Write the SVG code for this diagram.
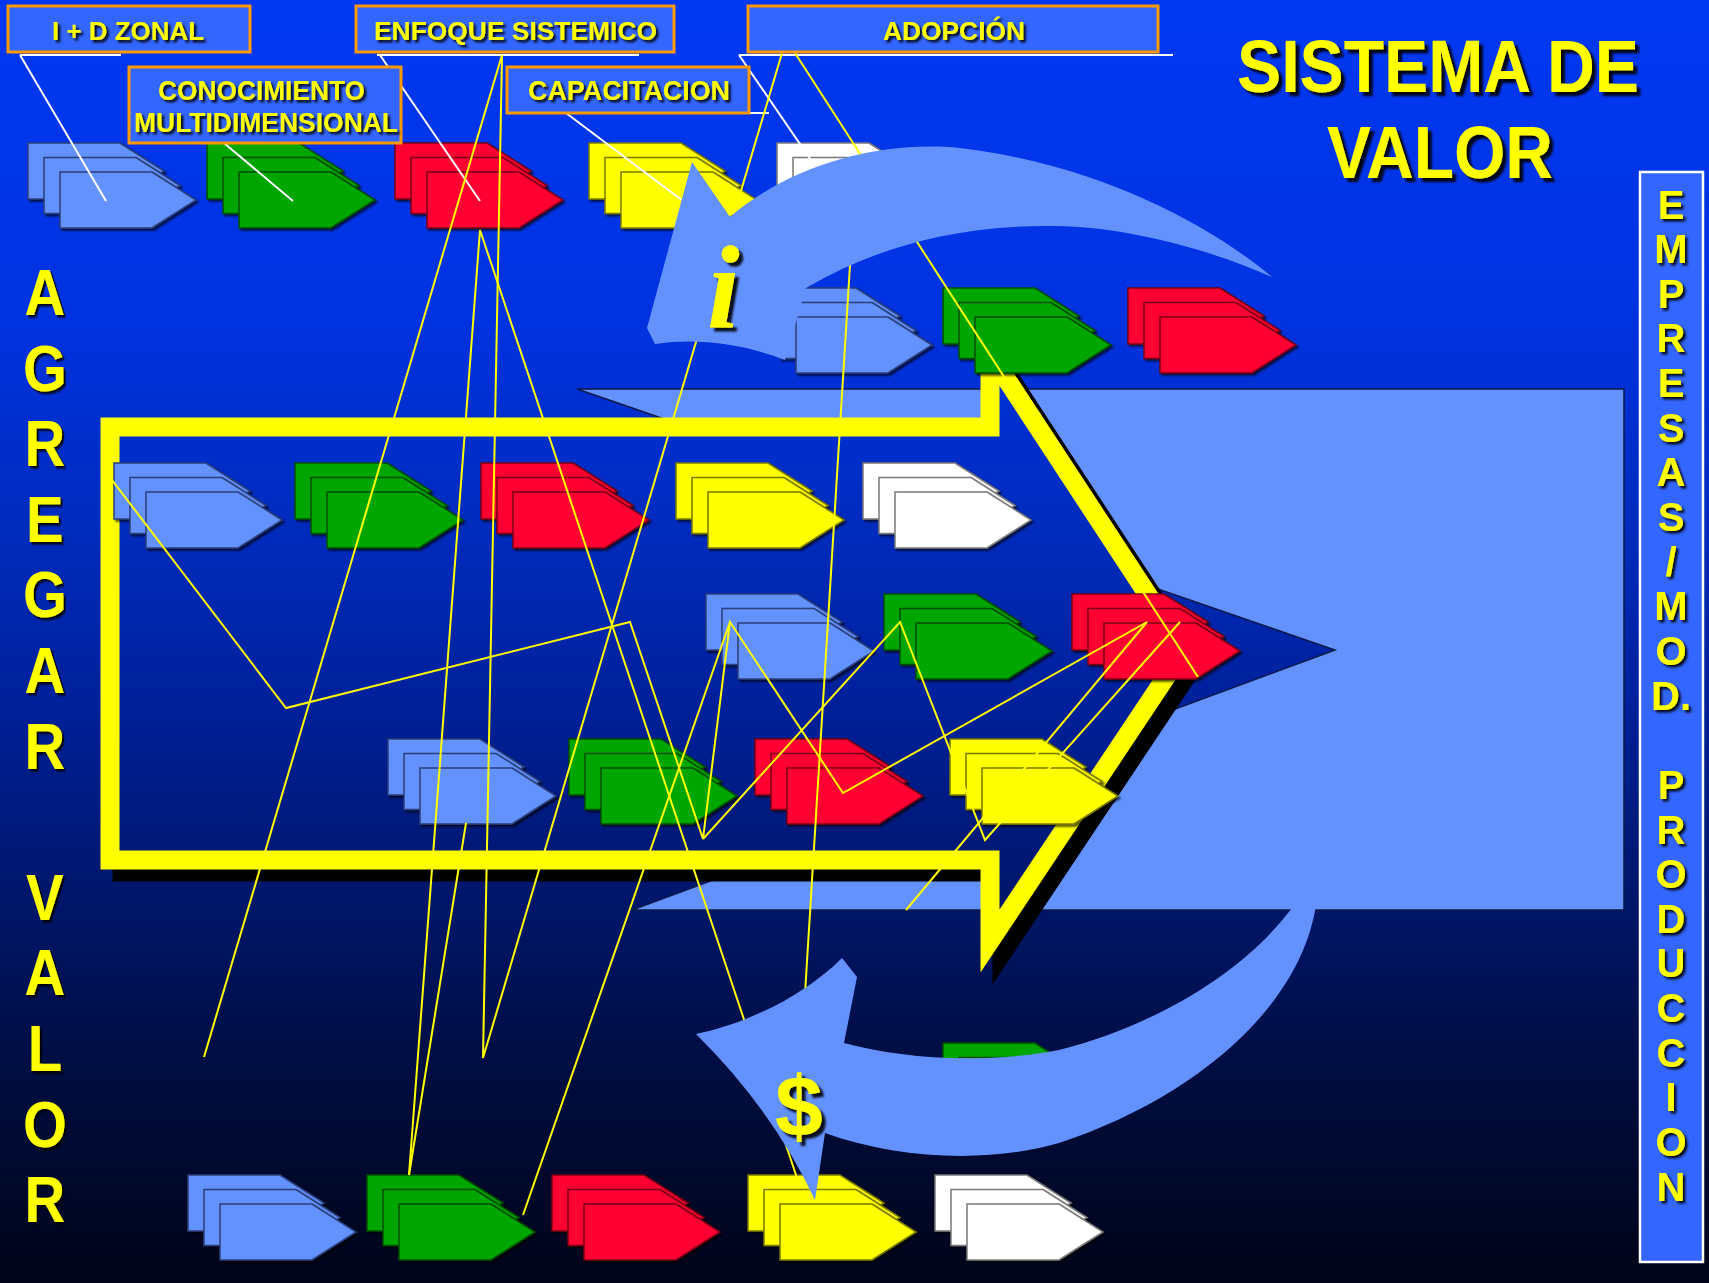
<svg xmlns="http://www.w3.org/2000/svg" xmlns:xlink="http://www.w3.org/1999/xlink" width="1709" height="1283" viewBox="0 0 1709 1283">
<defs>
<linearGradient id="bg" gradientUnits="userSpaceOnUse" x1="0" y1="0" x2="0" y2="1283">
<stop offset="0" stop-color="#0038F2"/>
<stop offset="0.25" stop-color="#0032E0"/>
<stop offset="0.4" stop-color="#002CC0"/>
<stop offset="0.55" stop-color="#00209A"/>
<stop offset="0.7" stop-color="#00166A"/>
<stop offset="0.85" stop-color="#000C3C"/>
<stop offset="1" stop-color="#000418"/>
</linearGradient>
<polygon id="chev" points="0,0 92,0 136,28 92,56 0,56"/>
<filter id="cs" x="-10%" y="-10%" width="130%" height="140%"><feDropShadow dx="2" dy="2" stdDeviation="0.8" flood-color="#000" flood-opacity="0.7"/></filter>
<filter id="ts" x="-10%" y="-10%" width="130%" height="140%"><feDropShadow dx="2.5" dy="2.5" stdDeviation="0.8" flood-color="#000" flood-opacity="0.9"/></filter>
<filter id="tsb" x="-10%" y="-10%" width="130%" height="140%"><feDropShadow dx="4" dy="4" stdDeviation="1" flood-color="#000" flood-opacity="0.9"/></filter>
<style>
.stk use{filter:url(#cs);stroke-width:1.5}
.cb{fill:#6392FF;stroke:#2B3F7A}
.cg{fill:#00A600;stroke:#004D00}
.cr{fill:#FF0030;stroke:#7A0016}
.cy{fill:#FFFF00;stroke:#7A7A00}
.cw{fill:#FFFFFF;stroke:#7A7A7A}
.lbl{fill:#3366FF;stroke:#FF9900;stroke-width:3}
.t{font-family:"Liberation Sans",Arial,sans-serif;font-weight:bold;fill:#FFFF00;filter:url(#ts)}
.wl{stroke:#FFFFFF;stroke-width:2;fill:none}
.yl{stroke:#FFFF00;stroke-width:2;fill:none;stroke-linejoin:miter}
.lb{fill:#6392FF}
</style>
</defs>
<rect x="0" y="0" width="1709" height="1283" fill="url(#bg)"/>

<g id="value-block">
<polygon class="lb" points="577,389 1624,389 1624,910 632,910 1335,650" stroke="#0B1A4A" stroke-width="1.5"/>
</g>

<g id="value-arrow">
<polygon points="110,427 990,427 990,354 1184,650 990,941 990,860 110,860" transform="translate(12,12)" fill="#000" stroke="#000" stroke-width="19"/>
<polygon points="110,427 990,427 990,354 1184,650 990,941 990,860 110,860" fill="url(#bg)" stroke="#FFFF00" stroke-width="19"/>
</g>

<g id="hidden-green" class="stk cg" transform="translate(943,1043)"><use xlink:href="#chev"/><use xlink:href="#chev" x="16" y="14.5"/><use xlink:href="#chev" x="32" y="29"/></g>

<g id="row1">
<g id="r1-blue" class="stk cb" transform="translate(28,143)"><use xlink:href="#chev"/><use xlink:href="#chev" x="16" y="14.5"/><use xlink:href="#chev" x="32" y="29"/></g>
<g id="r1-green" class="stk cg" transform="translate(207,143)"><use xlink:href="#chev"/><use xlink:href="#chev" x="16" y="14.5"/><use xlink:href="#chev" x="32" y="29"/></g>
<g id="r1-red" class="stk cr" transform="translate(395,143)"><use xlink:href="#chev"/><use xlink:href="#chev" x="16" y="14.5"/><use xlink:href="#chev" x="32" y="29"/></g>
<g id="r1-yellow" class="stk cy" transform="translate(589,143)"><use xlink:href="#chev"/><use xlink:href="#chev" x="16" y="14.5"/><use xlink:href="#chev" x="32" y="29"/></g>
<g id="r1-white" class="stk cw" transform="translate(777,143)"><use xlink:href="#chev"/><use xlink:href="#chev" x="16" y="14.5"/><use xlink:href="#chev" x="32" y="29"/></g>
</g>
<g id="row2">
<g id="r2-blue" class="stk cb" transform="translate(764,288)"><use xlink:href="#chev"/><use xlink:href="#chev" x="16" y="14.5"/><use xlink:href="#chev" x="32" y="29"/></g>
<g id="r2-green" class="stk cg" transform="translate(943,288)"><use xlink:href="#chev"/><use xlink:href="#chev" x="16" y="14.5"/><use xlink:href="#chev" x="32" y="29"/></g>
<g id="r2-red" class="stk cr" transform="translate(1128,288)"><use xlink:href="#chev"/><use xlink:href="#chev" x="16" y="14.5"/><use xlink:href="#chev" x="32" y="29"/></g>
</g>
<g id="row3">
<g id="r3-blue" class="stk cb" transform="translate(114,463)"><use xlink:href="#chev"/><use xlink:href="#chev" x="16" y="14.5"/><use xlink:href="#chev" x="32" y="29"/></g>
<g id="r3-green" class="stk cg" transform="translate(295,463)"><use xlink:href="#chev"/><use xlink:href="#chev" x="16" y="14.5"/><use xlink:href="#chev" x="32" y="29"/></g>
<g id="r3-red" class="stk cr" transform="translate(481,463)"><use xlink:href="#chev"/><use xlink:href="#chev" x="16" y="14.5"/><use xlink:href="#chev" x="32" y="29"/></g>
<g id="r3-yellow" class="stk cy" transform="translate(676,463)"><use xlink:href="#chev"/><use xlink:href="#chev" x="16" y="14.5"/><use xlink:href="#chev" x="32" y="29"/></g>
<g id="r3-white" class="stk cw" transform="translate(863,463)"><use xlink:href="#chev"/><use xlink:href="#chev" x="16" y="14.5"/><use xlink:href="#chev" x="32" y="29"/></g>
</g>
<g id="row4">
<g id="r4-blue" class="stk cb" transform="translate(706,594)"><use xlink:href="#chev"/><use xlink:href="#chev" x="16" y="14.5"/><use xlink:href="#chev" x="32" y="29"/></g>
<g id="r4-green" class="stk cg" transform="translate(884,594)"><use xlink:href="#chev"/><use xlink:href="#chev" x="16" y="14.5"/><use xlink:href="#chev" x="32" y="29"/></g>
<g id="r4-red" class="stk cr" transform="translate(1072,594)"><use xlink:href="#chev"/><use xlink:href="#chev" x="16" y="14.5"/><use xlink:href="#chev" x="32" y="29"/></g>
</g>
<g id="row5">
<g id="r5-blue" class="stk cb" transform="translate(388,739)"><use xlink:href="#chev"/><use xlink:href="#chev" x="16" y="14.5"/><use xlink:href="#chev" x="32" y="29"/></g>
<g id="r5-green" class="stk cg" transform="translate(569,739)"><use xlink:href="#chev"/><use xlink:href="#chev" x="16" y="14.5"/><use xlink:href="#chev" x="32" y="29"/></g>
<g id="r5-red" class="stk cr" transform="translate(755,739)"><use xlink:href="#chev"/><use xlink:href="#chev" x="16" y="14.5"/><use xlink:href="#chev" x="32" y="29"/></g>
<g id="r5-yellow" class="stk cy" transform="translate(950,739)"><use xlink:href="#chev"/><use xlink:href="#chev" x="16" y="14.5"/><use xlink:href="#chev" x="32" y="29"/></g>
</g>
<g id="row6">
<g id="r6-blue" class="stk cb" transform="translate(188,1175)"><use xlink:href="#chev"/><use xlink:href="#chev" x="16" y="14.5"/><use xlink:href="#chev" x="32" y="29"/></g>
<g id="r6-green" class="stk cg" transform="translate(367,1175)"><use xlink:href="#chev"/><use xlink:href="#chev" x="16" y="14.5"/><use xlink:href="#chev" x="32" y="29"/></g>
<g id="r6-red" class="stk cr" transform="translate(552,1175)"><use xlink:href="#chev"/><use xlink:href="#chev" x="16" y="14.5"/><use xlink:href="#chev" x="32" y="29"/></g>
<g id="r6-yellow" class="stk cy" transform="translate(748,1175)"><use xlink:href="#chev"/><use xlink:href="#chev" x="16" y="14.5"/><use xlink:href="#chev" x="32" y="29"/></g>
<g id="r6-white" class="stk cw" transform="translate(935,1175)"><use xlink:href="#chev"/><use xlink:href="#chev" x="16" y="14.5"/><use xlink:href="#chev" x="32" y="29"/></g>
</g>

<g id="connectors">
<path class="wl" d="M20,55 H121 M20,55 L106,201"/>
<path class="wl" d="M224,143 L293,201"/>
<path class="wl" d="M377,55 H639 M380,55 L480,201"/>
<path class="wl" d="M561,113 H769 M566,113 L683,201"/>
<path class="wl" d="M739,55 H1173 M739,55 L828,185"/>
<path class="yl" d="M502,55 L204,1057"/>
<path class="yl" d="M502,55 L483,1058 L782,53"/>
<path class="yl" d="M795,53 L1198,677"/>
<path class="yl" d="M409,1175 L480,230 L797,1178"/>
<path class="yl" d="M466,823 L409,1175"/>
<path class="yl" d="M854,200 L804,1010"/>
<path class="yl" d="M730,622 L523,1215"/>
<path class="yl" d="M112,480 L286,708 L630,622 L703,839 L730,622 L843,793 L1147,622 L906,910"/>
<path class="yl" d="M703,839 L900,622 L985,840 L1180,622"/>
</g>

<g id="return-arrow">
<path class="lb" d="M1294,905 L1316,905 C1300,1010 1190,1100 1059,1143 C990,1163 900,1160 825,1133 L815,1200 Q772,1109 696,1034 C740,1025 800,1000 842,958 L857,977 L844,1043 C900,1058 980,1065 1059,1050 C1140,1030 1240,980 1294,905 Z"/>
</g>
<g id="info-arrow">
<path class="lb" d="M1272,277 C1210,225 1100,165 960,148 C880,140 790,165 730,217 L692,162 L647,328 L655,344 Q720,335 785,360 L806,288 C880,245 960,225 1054,226 C1130,227 1210,250 1272,277 Z"/>
</g>

<g id="label-id">
<rect class="lbl" x="8" y="6" width="242" height="46"/>
<text class="t" x="52" y="40" font-size="25" textLength="152" lengthAdjust="spacingAndGlyphs">I + D ZONAL</text>
</g>
<g id="label-conocimiento">
<rect class="lbl" x="129" y="67" width="272" height="76"/>
<text class="t" x="158" y="100" font-size="28" textLength="207" lengthAdjust="spacingAndGlyphs">CONOCIMIENTO</text>
<text class="t" x="134" y="132" font-size="28" textLength="264" lengthAdjust="spacingAndGlyphs">MULTIDIMENSIONAL</text>
</g>
<g id="label-enfoque">
<rect class="lbl" x="356" y="6" width="318" height="46"/>
<text class="t" x="374" y="40" font-size="25" textLength="283" lengthAdjust="spacingAndGlyphs">ENFOQUE SISTEMICO</text>
</g>
<g id="label-capacitacion">
<rect class="lbl" x="507" y="67" width="242" height="46"/>
<text class="t" x="528" y="100" font-size="28" textLength="202" lengthAdjust="spacingAndGlyphs">CAPACITACION</text>
</g>
<g id="label-adopcion">
<rect class="lbl" x="748" y="6" width="410" height="46"/>
<text class="t" x="883" y="40" font-size="25" textLength="142" lengthAdjust="spacingAndGlyphs">ADOPCIÓN</text>
</g>

<g id="title">
<text class="t" style="filter:url(#tsb)" x="1237" y="92" font-size="75" textLength="402" lengthAdjust="spacingAndGlyphs">SISTEMA DE</text>
<text class="t" style="filter:url(#tsb)" x="1327" y="178" font-size="75" textLength="226" lengthAdjust="spacingAndGlyphs">VALOR</text>
</g>

<g id="empresas">
<rect x="1640" y="172" width="63" height="1090" fill="#3366FF" stroke="#FFFFFF" stroke-width="2.5"/>
<g class="t" font-size="40" text-anchor="middle">
<text x="1671" y="218.5">E</text>
<text x="1671" y="263.1">M</text>
<text x="1671" y="307.8">P</text>
<text x="1671" y="352.4">R</text>
<text x="1671" y="397.1">E</text>
<text x="1671" y="441.7">S</text>
<text x="1671" y="486.3">A</text>
<text x="1671" y="531">S</text>
<text x="1671" y="575.6">/</text>
<text x="1671" y="620.3">M</text>
<text x="1671" y="664.9">O</text>
<text x="1671" y="709.5">D.</text>
<text x="1671" y="798.8">P</text>
<text x="1671" y="843.5">R</text>
<text x="1671" y="888.1">O</text>
<text x="1671" y="932.7">D</text>
<text x="1671" y="977.4">U</text>
<text x="1671" y="1022">C</text>
<text x="1671" y="1066.7">C</text>
<text x="1671" y="1111.3">I</text>
<text x="1671" y="1155.9">O</text>
<text x="1671" y="1200.6">N</text>
</g>
</g>

<g id="agregar-valor" transform="scale(0.88,1)">
<g class="t" font-size="64" text-anchor="middle">
<text x="51" y="315">A</text>
<text x="51" y="390.6">G</text>
<text x="51" y="466.2">R</text>
<text x="51" y="541.8">E</text>
<text x="51" y="617.4">G</text>
<text x="51" y="693">A</text>
<text x="51" y="768.6">R</text>
<text x="51" y="919.8">V</text>
<text x="51" y="995.4">A</text>
<text x="51" y="1071">L</text>
<text x="51" y="1146.6">O</text>
<text x="51" y="1222.2">R</text>
</g>
</g>

<g id="symbols">
<text class="t" x="707" y="327" font-size="118" style="font-family:'Liberation Serif',serif;font-style:italic;filter:url(#tsb)">i</text>
<text class="t" x="799" y="1136" font-size="86" text-anchor="middle" style="filter:url(#tsb)">$</text>
</g>
</svg>
